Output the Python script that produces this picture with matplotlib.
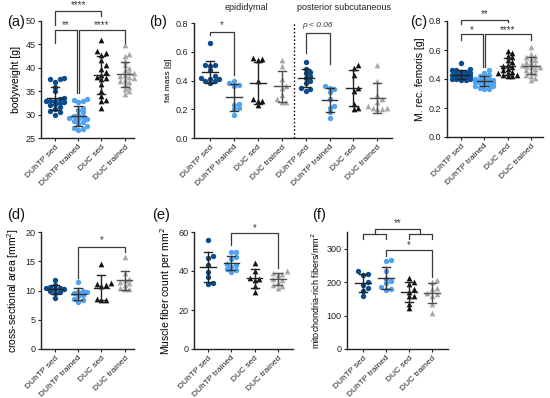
import numpy as np
import matplotlib.pyplot as plt

plt.rcParams['font.family'] = ['Liberation Sans', 'DejaVu Sans']

W, H = 550, 398
groups = ['DUhTP sed', 'DUhTP trained', 'DUC sed', 'DUC trained']
colors = ['#0b4c8c', '#4fa3f2', '#111111', '#a8a8a8']
markers = ['o', 'o', '^', '^']
line_cols = ['#222222', '#333333', '#222222', '#505050']

# (a) bodyweight [g]
a_data = [
    [37.8, 37.7, 37.6, 37.0, 36.0, 35.0, 33.5, 33.3, 33.0, 32.9, 32.8, 32.6, 32.5, 32.3, 32.0, 31.6, 31.2, 30.8, 30.5, 30.0],
    [33.4, 33.2, 33.0, 32.6, 31.5, 31.0, 30.5, 30.0, 29.8, 29.5, 29.2, 29.0, 28.6, 28.4, 28.0, 27.6, 27.2, 27.0, 26.8, 29.0],
    [46.0, 43.6, 43.2, 42.8, 41.6, 40.5, 39.8, 39.0, 38.5, 38.0, 37.8, 37.6, 36.5, 35.0, 34.0, 33.2, 33.0, 31.4],
    [44.8, 43.0, 42.5, 41.5, 40.5, 40.0, 39.5, 39.0, 38.8, 38.5, 38.2, 38.0, 37.8, 37.5, 37.2, 37.0, 36.5, 36.0, 35.5, 35.0, 34.5],
]
# (b) fat mass [g], epididymal then posterior subcutaneous
b_epi = [
    [0.66, 0.51, 0.51, 0.50, 0.47, 0.43, 0.42, 0.41, 0.41, 0.40, 0.40, 0.38],
    [0.40, 0.38, 0.37, 0.36, 0.24, 0.23, 0.21, 0.20, 0.16],
    [0.56, 0.55, 0.54, 0.40, 0.27, 0.26, 0.26, 0.23],
    [0.54, 0.50, 0.41, 0.36, 0.35, 0.30, 0.27, 0.25, 0.25],
]
b_post = [
    [0.53, 0.48, 0.46, 0.45, 0.43, 0.42, 0.40, 0.38, 0.35, 0.34, 0.33],
    [0.36, 0.35, 0.34, 0.32, 0.27, 0.22, 0.21, 0.18, 0.14],
    [0.51, 0.49, 0.44, 0.35, 0.33, 0.24, 0.21, 0.20],
    [0.51, 0.40, 0.30, 0.27, 0.25, 0.22, 0.21, 0.21, 0.20, 0.20],
]
# (c) M. rec. femoris [g]
c_data = [
    [0.51, 0.47, 0.46, 0.45, 0.45, 0.44, 0.44, 0.43, 0.43, 0.42, 0.42, 0.41, 0.41, 0.40, 0.40, 0.39, 0.39, 0.40, 0.43, 0.46],
    [0.46, 0.44, 0.43, 0.42, 0.41, 0.40, 0.40, 0.39, 0.39, 0.38, 0.38, 0.38, 0.37, 0.37, 0.36, 0.36, 0.35, 0.35, 0.34, 0.33, 0.33, 0.39],
    [0.59, 0.58, 0.56, 0.55, 0.53, 0.52, 0.50, 0.49, 0.48, 0.47, 0.46, 0.45, 0.44, 0.43, 0.43, 0.42, 0.42, 0.44],
    [0.62, 0.57, 0.56, 0.55, 0.54, 0.53, 0.52, 0.51, 0.50, 0.50, 0.49, 0.48, 0.48, 0.47, 0.46, 0.45, 0.44, 0.42, 0.41, 0.39, 0.43],
]
# (d) cross-sectional area [mm2]
d_data = [
    [11.8, 10.9, 10.6, 10.5, 10.4, 10.3, 10.2, 10.0, 9.7, 9.5, 8.8],
    [11.5, 10.0, 9.8, 9.7, 9.5, 9.3, 9.0, 8.6, 8.3, 8.1],
    [14.6, 11.3, 11.1, 10.9, 10.7, 8.4, 8.3, 8.6],
    [15.7, 13.0, 12.0, 11.8, 11.5, 11.3, 11.0, 10.5, 10.3, 10.2],
]
# (e) muscle fiber count per mm2
e_data = [
    [56, 47.5, 46.5, 43, 39.5, 37, 34, 33.5],
    [49.5, 49.5, 47, 46, 43.5, 43, 42, 41, 40.5, 39.5],
    [44.3, 40.2, 36.5, 35.8, 35.5, 32.3, 29],
    [40, 39, 38.5, 38, 36, 35.5, 34, 33, 32.5, 31.2],
]
# (f) mitochondria-rich fibers/mm2
f_data = [
    [233, 225, 222, 200, 190, 183, 175, 158],
    [265, 263, 232, 210, 202, 198, 186, 178, 176],
    [213, 200, 195, 178, 170, 160, 158, 136, 122],
    [205, 200, 182, 178, 168, 166, 160, 135, 108],
]

fig = plt.figure(figsize=(W / 100, H / 100), dpi=100)


def make_ax(l, r, top, bot, xlim, ylim, yticks, ylabel, ylab_size=7.5, fmt=None):
    ax = fig.add_axes([l / W, 1 - bot / H, (r - l) / W, (bot - top) / H])
    ax.set_xlim(*xlim)
    ax.set_ylim(*ylim)
    ax.set_yticks(yticks)
    if fmt:
        ax.set_yticklabels([fmt.format(v) for v in yticks])
    for s in ['top', 'right']:
        ax.spines[s].set_visible(False)
    for s in ['left', 'bottom']:
        ax.spines[s].set_linewidth(1.0)
        ax.spines[s].set_color('#222222')
    ax.tick_params(length=2.5, width=0.8, labelsize=6.5, pad=1.5, colors='#222222')
    ax.set_ylabel(ylabel, fontsize=ylab_size, labelpad=3)
    return ax


def swarm_x(ax, x0, ys, d=4.6, nmax=2):
    # simple beeswarm in pixel space, at most nmax steps to each side
    pts = ax.transData.transform(np.column_stack([np.full(len(ys), x0), ys]))
    placed = []
    out = np.zeros((len(ys), 2))
    cands = [0.0]
    for k in range(1, nmax + 1):
        cands += [k * d, -k * d]
    for i in np.argsort(ys):
        px, py = pts[i]
        best, best_gap = 0.0, -1
        for off in cands:
            gap = min([np.hypot(px + off - qx, py - qy) for qx, qy in placed] or [99])
            if gap >= d * 0.85:
                best = off
                break
            if gap > best_gap:
                best, best_gap = off, gap
        placed.append((px + best, py))
        out[i] = (px + best, py)
    return ax.transData.inverted().transform(out)[:, 0]


def draw_group(ax, x0, ys, gi):
    ys = np.asarray(ys, float)
    xs = swarm_x(ax, x0, ys)
    ax.scatter(xs, ys, s=15 if markers[gi] == 'o' else 17, marker=markers[gi],
               color=colors[gi], linewidths=0, zorder=3, clip_on=False)
    m, sd = ys.mean(), ys.std(ddof=1)
    lc = line_cols[gi]
    ax.plot([x0 - 0.33, x0 + 0.33], [m, m], color=lc, lw=1.0, zorder=4)
    ax.plot([x0, x0], [m - sd, m + sd], color=lc, lw=1.0, zorder=4)
    for v in (m - sd, m + sd):
        ax.plot([x0 - 0.17, x0 + 0.17], [v, v], color=lc, lw=1.0, zorder=4)


def set_groups(ax, xs, labels):
    ax.set_xticks(xs)
    ax.set_xticklabels(labels, rotation=45, ha='right', rotation_mode='anchor', fontsize=6)


BC = '#3a3a3a'


def line(ax, xs, ys):
    ax.plot(xs, ys, color=BC, lw=0.9, clip_on=False, zorder=5)


def bracket(ax, x1, x2, y, y1, y2, txt, ty, xt=None, size=7, style='normal'):
    line(ax, [x1, x1, x2, x2], [y1, y, y, y2])
    ax.text((x1 + x2) / 2 if xt is None else xt, ty, txt, ha='center', va='center',
            fontsize=size, style=style, color=BC, clip_on=False)


# ---- (a)
ax = make_ax(41, 134, 21, 138, (-0.6, 3.4), (25, 50), [25, 30, 35, 40, 45, 50], 'bodyweight [g]')
for i, ys in enumerate(a_data):
    draw_group(ax, i, ys, i)
set_groups(ax, range(4), groups)
bracket(ax, 0, 2, 52.1, 49.1, 51.1, '****', 53.4)
bracket(ax, 0, 0.95, 48.1, 45.3, 34.6, '**', 49.2, xt=0.47)
bracket(ax, 1.05, 3, 48.1, 34.6, 45.3, '****', 49.2, xt=2.0)

# ---- (b)
ax = make_ax(194, 392, 23, 138, (-0.67, 7.61), (0, 0.8), [0, 0.2, 0.4, 0.6, 0.8], 'fat mass [g]',
             ylab_size=6, fmt='{:.1f}')
for i, ys in enumerate(b_epi):
    draw_group(ax, i, ys, i)
for i, ys in enumerate(b_post):
    draw_group(ax, i + 4, ys, i)
set_groups(ax, range(8), groups + groups)
ax.plot([3.5, 3.5], [0, 0.8], color='#111111', lw=1.0, ls=(0, (1.2, 1.5)), clip_on=False)
bracket(ax, 0, 1, 0.74, 0.715, 0.44, '*', 0.785)
bracket(ax, 4, 5, 0.73, 0.59, 0.515, 'p < 0.06', 0.785, size=6, style='italic')
ax.text(1.5, 0.905, 'epididymal', ha='center', va='center', fontsize=6.5, color='#222222')
ax.text(5.6, 0.905, 'posterior subcutaneous', ha='center', va='center', fontsize=6.5, color='#222222')

# ---- (c)
ax = make_ax(447, 543, 21, 137, (-0.6, 3.52), (0, 0.8), [0, 0.2, 0.4, 0.6, 0.8], 'M. rec. femoris [g]',
             fmt='{:.1f}')
for i, ys in enumerate(c_data):
    draw_group(ax, i, ys, i)
set_groups(ax, range(4), groups)
bracket(ax, 0, 2, 0.81, 0.78, 0.79, '**', 0.85)
bracket(ax, 0, 0.95, 0.71, 0.67, 0.48, '*', 0.735, xt=0.47)
bracket(ax, 1.05, 3, 0.71, 0.48, 0.67, '****', 0.735, xt=2.0)

# ---- (d)
ax = make_ax(41, 134, 232, 349, (-0.6, 3.4), (0, 20), [0, 5, 10, 15, 20], 'cross-sectional area [mm$^2$]')
for i, ys in enumerate(d_data):
    draw_group(ax, i, ys, i)
set_groups(ax, range(4), groups)
bracket(ax, 1, 3, 17.5, 12.1, 16.6, '*', 18.7)

# ---- (e)
ax = make_ax(194, 293, 232, 349, (-0.6, 3.65), (0, 60), [0, 20, 40, 60], 'Muscle fiber count per mm$^2$')
for i, ys in enumerate(e_data):
    draw_group(ax, i, ys, i)
set_groups(ax, range(4), groups)
bracket(ax, 1, 3, 59.3, 53.3, 41.4, '*', 62.2)

# ---- (f)
ax = make_ax(347, 448, 232, 349, (-0.7, 3.7), (0, 350), [0, 100, 200, 300], 'mitochondria-rich fibers/mm$^2$',
             ylab_size=6.5)
for i, ys in enumerate(f_data):
    draw_group(ax, i, ys, i)
set_groups(ax, range(4), groups)
line(ax, [0, 0, 1, 1], [329, 343, 343, 329])
line(ax, [2, 2, 3, 3], [329, 343, 343, 329])
bracket(ax, 0.5, 2.5, 360, 343, 343, '**', 376)
bracket(ax, 1, 3, 296, 279, 215, '*', 312)

# panel letters
for lab, x, y in [('(a)', 7, 22), ('(b)', 149, 22), ('(c)', 410, 22),
                  ('(d)', 7, 215), ('(e)', 152, 215), ('(f)', 312, 215)]:
    fig.text(x / W, 1 - y / H, lab, fontsize=10.5, ha='left', va='center', color='#111111')

fig.savefig('out.png', dpi=100)
